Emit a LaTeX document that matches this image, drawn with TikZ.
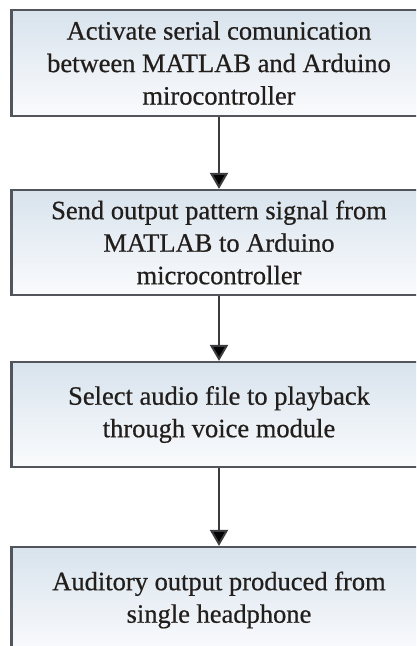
\documentclass[tikz,border=0pt]{standalone}
\usepackage{fontspec}
\setmainfont{Liberation Serif}
\newfontfamily\boxfont{Liberation Serif}[FakeBold=0.6]
\usetikzlibrary{arrows.meta}
\definecolor{boxtop}{RGB}{216,227,237}
\definecolor{boxbot}{RGB}{250,251,253}
\definecolor{boxline}{RGB}{82,86,92}
\definecolor{txt}{RGB}{34,30,28}
\definecolor{arrline}{RGB}{60,60,62}
\tikzset{
  stepbox/.style={draw=boxline, line width=2.2pt, top color=boxtop, bottom color=boxbot,
    minimum width=415pt, inner sep=0pt, align=center, text=txt,
    font=\boxfont\fontsize{26.5pt}{32.5pt}\selectfont},
  flow/.style={draw=arrline, line width=2pt, -{Triangle[width=18pt,length=16pt,fill=black]}}
}
\begin{document}
\begin{tikzpicture}[x=1pt,y=1pt]
\useasboundingbox (0,0) rectangle (416,-646);
\clip (0,0) rectangle (416,-646);
\fill[white] (0,0) rectangle (416,-646);
\node[stepbox, minimum height=106pt] (b1) at (219,-63) {Activate serial comunication\\between MATLAB and Arduino\\mirocontroller};
\node[stepbox, minimum height=105pt] (b2) at (219,-242.5) {Send output pattern signal from\\MATLAB to Arduino\\microcontroller};
\node[stepbox, minimum height=105pt] (b3) at (219,-414.5) {Select audio file to playback\\through voice module};
\node[stepbox, minimum height=106pt] (b4) at (219,-600) {Auditory output produced from\\single headphone};
\draw[flow] (b1.south) -- (b2.north);
\draw[flow] (b2.south) -- (b3.north);
\draw[flow] (b3.south) -- (b4.north);
\end{tikzpicture}
\end{document}
